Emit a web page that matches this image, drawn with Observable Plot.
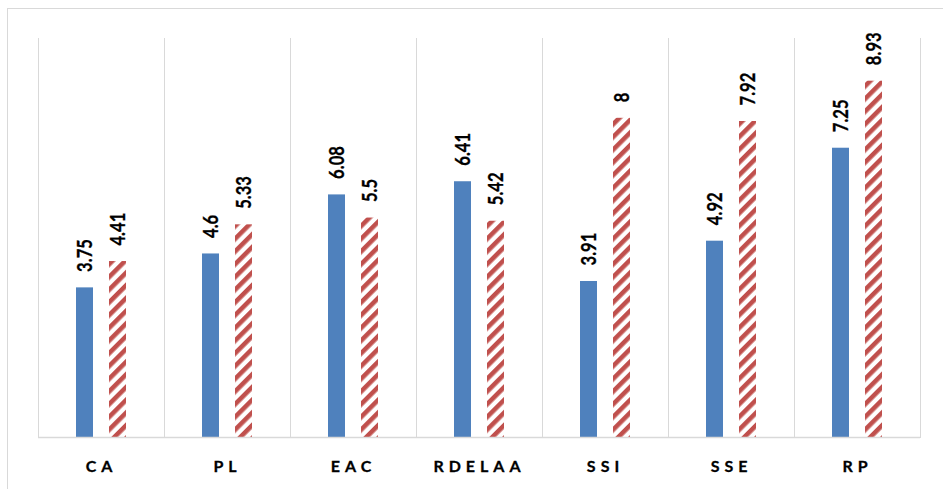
<!DOCTYPE html>
<html>
<head>
<meta charset="utf-8">
<script src="https://cdn.jsdelivr.net/npm/d3@7"></script>
<script src="https://cdn.jsdelivr.net/npm/@observablehq/plot@0.6"></script>
<style>
  html, body { margin: 0; padding: 0; background: #fff; }
  #wrap { position: relative; width: 943px; height: 489px; overflow: hidden; }
  #edge { position: absolute; left: 7px; top: 8px; right: 0; bottom: 0;
          border-left: 1px solid #d9d9d9; border-top: 1px solid #d9d9d9; }
  #chart { position: absolute; left: 0; top: 0; }
  #chart g[aria-label="fx-axis tick label"] text { letter-spacing: 5px; stroke: #000; stroke-width: 0.3px; }
  #chart g[aria-label="text"] text { stroke: #000; stroke-width: 0.25px; }
</style>
</head>
<body>
<div id="wrap"><div id="edge"></div><div id="chart"></div></div>
<script>
// Categories and the two series shown side by side in each group
const categories = ["CA", "PL", "EAC", "RDELAA", "SSI", "SSE", "RP"];
const series = ["first", "second"];
const firstValues = [3.75, 4.6, 6.08, 6.41, 3.91, 4.92, 7.25];
const secondValues = [4.41, 5.33, 5.5, 5.42, 8, 7.92, 8.93];

const rows = categories.flatMap((c, i) => [
  {category: c, series: series[0], value: firstValues[i]},
  {category: c, series: series[1], value: secondValues[i]}
]);
const firstRows = rows.filter(d => d.series === series[0]);
const secondRows = rows.filter(d => d.series === series[1]);

const grid = "#d9d9d9";

const chart = Plot.plot({
  width: 943,
  height: 489,
  marginLeft: 37,
  marginRight: 23,
  marginTop: 38,
  marginBottom: 52,
  style: {background: "transparent", fontFamily: "Lato, 'Open Sans', sans-serif", color: "#000"},
  fx: {domain: categories, padding: 0, label: null},
  x: {domain: series, axis: null, paddingInner: 0.485, paddingOuter: 1.15},
  y: {domain: [0, 10], axis: null},
  marks: [
    Plot.frame({anchor: "left", stroke: grid}),
    Plot.frame({anchor: "right", stroke: grid}),
    Plot.barY(firstRows, {fx: "category", x: "series", y: "value", fill: "#4f81bd"}),
    Plot.barY(secondRows, {fx: "category", x: "series", y: "value", fill: "url(#hatch)"}),
    Plot.ruleY([0], {stroke: grid, strokeWidth: 1.6}),
    Plot.text(rows, {
      fx: "category", x: "series", y: "value",
      text: d => String(d.value),
      rotate: -90, textAnchor: "start", dy: -16,
      fontWeight: "bold", fontSize: 16.6, fill: "#000"
    }),
    Plot.axisFx({
      anchor: "bottom", tickSize: 0, tickPadding: 23,
      fontSize: 16, fontWeight: "bold", label: null
    })
  ]
});

// Diagonal hatch used by the second series
const svg = d3.select(chart);
const pattern = svg.insert("defs", ":first-child")
  .append("pattern")
  .attr("id", "hatch")
  .attr("patternUnits", "userSpaceOnUse")
  .attr("width", 9)
  .attr("height", 9)
  .attr("patternTransform", "rotate(45)");
pattern.append("rect").attr("width", 9).attr("height", 9).attr("fill", "#fff");
pattern.append("rect").attr("width", 4.6).attr("height", 9).attr("fill", "#c0504d");

// Value labels are drawn with broad, compact glyphs
svg.selectAll('g[aria-label="text"] text').each(function() {
  const t = this.getAttribute("transform") || "";
  this.setAttribute("transform", t + " scale(1,1.3)");
});

document.getElementById("chart").appendChild(chart);
</script>
</body>
</html>
